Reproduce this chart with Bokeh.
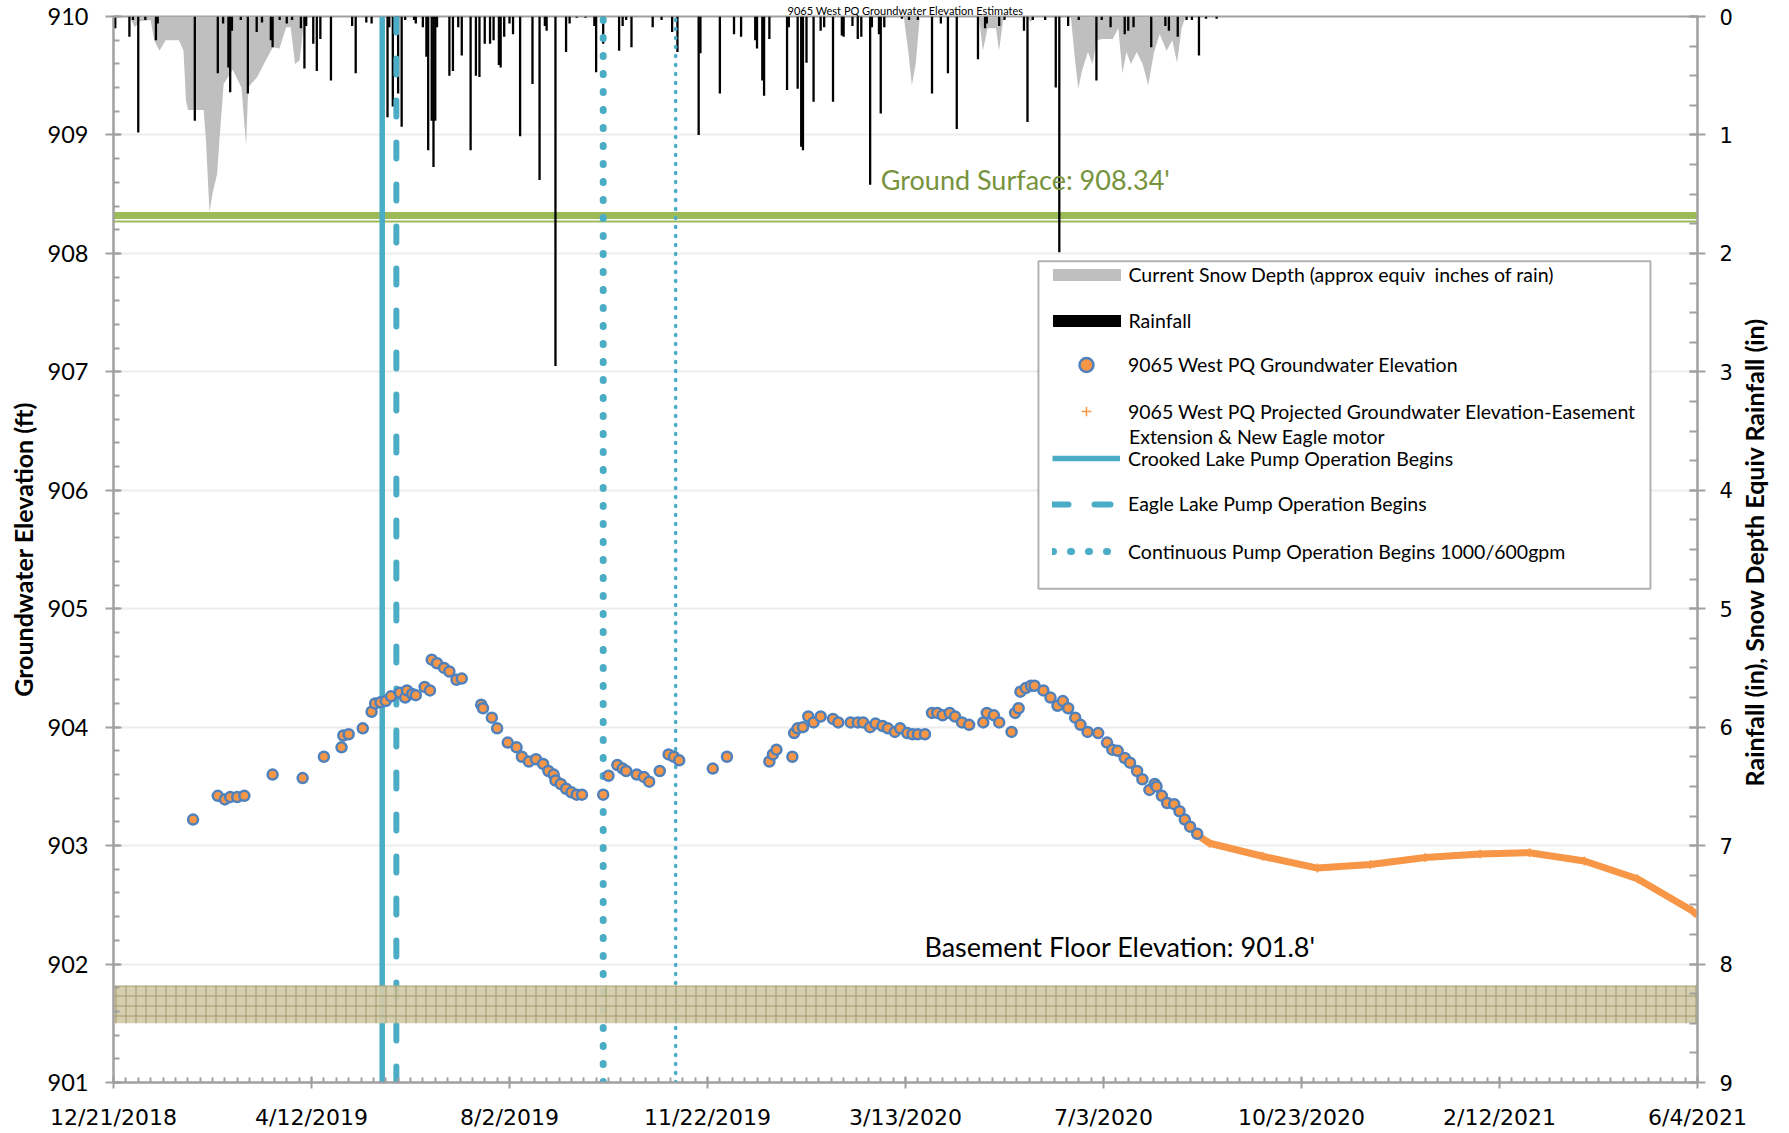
import math
import pandas as pd
from bokeh.plotting import figure
from bokeh.models import (Range1d, LinearAxis, FixedTicker, Legend, LegendItem, Label,
                          BoxAnnotation, ColumnDataSource)
from bokeh.embed import file_html
from bokeh.resources import INLINE

# ---------------- data ----------------
START = pd.Timestamp("2018-12-21")
END = pd.Timestamp("2021-06-04")
x_tick_labels = ["12/21/2018", "4/12/2019", "8/2/2019", "11/22/2019", "3/13/2020",
                 "7/3/2020", "10/23/2020", "2/12/2021", "6/4/2021"]

gw_dates = [
    "2019-02-04", "2019-02-18", "2019-02-22", "2019-02-25", "2019-03-01", "2019-03-05",
    "2019-03-21", "2019-04-07", "2019-04-19", "2019-04-29", "2019-04-30", "2019-05-03",
    "2019-05-11", "2019-05-16", "2019-05-18", "2019-05-21", "2019-05-24", "2019-05-27",
    "2019-06-01", "2019-06-04", "2019-06-05", "2019-06-08", "2019-06-10", "2019-06-15",
    "2019-06-18", "2019-06-19", "2019-06-22", "2019-06-26", "2019-06-29", "2019-07-03",
    "2019-07-06", "2019-07-17", "2019-07-18", "2019-07-23", "2019-07-26", "2019-08-01",
    "2019-08-06", "2019-08-09", "2019-08-13", "2019-08-17", "2019-08-21", "2019-08-24",
    "2019-08-27", "2019-08-28", "2019-08-31", "2019-09-03", "2019-09-06", "2019-09-09",
    "2019-09-12", "2019-09-24", "2019-09-27", "2019-10-02", "2019-10-05", "2019-10-07",
    "2019-10-13", "2019-10-17", "2019-10-20", "2019-10-26", "2019-10-31", "2019-11-03",
    "2019-11-06", "2019-11-25", "2019-12-03", "2019-12-27", "2019-12-29", "2019-12-31",
    "2020-01-09", "2020-01-10", "2020-01-12", "2020-01-15", "2020-01-18", "2020-01-21",
    "2020-01-25", "2020-02-01", "2020-02-04", "2020-02-11", "2020-02-15", "2020-02-18",
    "2020-02-22", "2020-02-25", "2020-02-29", "2020-03-03", "2020-03-07", "2020-03-10",
    "2020-03-14", "2020-03-17", "2020-03-20", "2020-03-24", "2020-03-28", "2020-03-31",
    "2020-04-03", "2020-04-07", "2020-04-10", "2020-04-14", "2020-04-18", "2020-04-26",
    "2020-04-28", "2020-05-02", "2020-05-05", "2020-05-12", "2020-05-14", "2020-05-16",
    "2020-05-17", "2020-05-20", "2020-05-23", "2020-05-25", "2020-05-30", "2020-06-03",
    "2020-06-07", "2020-06-10", "2020-06-13", "2020-06-17", "2020-06-20", "2020-06-24",
    "2020-06-30", "2020-07-05", "2020-07-08", "2020-07-11", "2020-07-15", "2020-07-18",
    "2020-07-22", "2020-07-25", "2020-07-29", "2020-08-01", "2020-08-02", "2020-08-05",
    "2020-08-08", "2020-08-12", "2020-08-15", "2020-08-18", "2020-08-21", "2020-08-25",
]
gw_elev = [
    903.22, 903.42, 903.39, 903.41, 903.41, 903.42,
    903.60, 903.57, 903.75, 903.83, 903.93, 903.94,
    903.99, 904.13, 904.20, 904.21, 904.22, 904.26,
    904.29, 904.25, 904.31, 904.28, 904.27, 904.34,
    904.31, 904.57, 904.54, 904.50, 904.47, 904.40,
    904.41, 904.19, 904.16, 904.08, 903.99, 903.87,
    903.83, 903.75, 903.71, 903.73, 903.69, 903.63,
    903.60, 903.55, 903.52, 903.48, 903.45, 903.43,
    903.43, 903.43, 903.59, 903.68, 903.65, 903.63,
    903.60, 903.58, 903.54, 903.63, 903.77, 903.75,
    903.72, 903.65, 903.75, 903.71, 903.77, 903.81,
    903.75, 903.95, 903.99, 904.00, 904.09, 904.04,
    904.09, 904.07, 904.04, 904.04, 904.04, 904.04,
    904.00, 904.03, 904.01, 903.99, 903.96, 903.99,
    903.95, 903.94, 903.94, 903.94, 904.12, 904.12,
    904.10, 904.12, 904.09, 904.04, 904.02, 904.04,
    904.12, 904.10, 904.04, 903.96, 904.12, 904.16,
    904.30, 904.33, 904.35, 904.35, 904.31, 904.25,
    904.18, 904.22, 904.16, 904.08, 904.02, 903.96,
    903.95, 903.87, 903.81, 903.80, 903.74, 903.70,
    903.63, 903.56, 903.47, 903.52, 903.50, 903.42,
    903.36, 903.35, 903.29, 903.22, 903.16, 903.10,
]

proj_dates = ["2020-08-25", "2020-09-01", "2020-10-01", "2020-11-01", "2020-12-01",
              "2021-01-01", "2021-02-01", "2021-03-01", "2021-04-01", "2021-05-01",
              "2021-06-01", "2021-06-04"]
proj_elev = [903.09, 903.02, 902.91, 902.81, 902.84, 902.90, 902.93, 902.94, 902.87,
             902.72, 902.45, 902.41]

# rainfall / snow: position along the precipitation axis (days after 12/21/2018), inches
rain_day = [1, 9, 11, 14, 18, 24, 25, 46, 59, 62, 65, 66, 67, 72, 76, 81, 84, 89, 90, 94,
            98, 101, 106, 108, 109, 113, 115, 117, 123, 135, 137, 143, 146, 155, 156, 158,
            160, 161, 163, 165, 170, 171, 175, 177, 178, 180, 181, 182, 183, 190, 192, 195,
            197, 202, 205, 207, 210, 213, 215, 218, 219, 221, 224, 226, 230, 237, 241, 244,
            245, 250, 256, 258, 262, 267, 272, 273, 277, 286, 288, 290, 293, 305, 310, 316,
            319, 331, 332, 343, 351, 355, 363, 364, 367, 368, 371, 381, 382, 387, 389, 390,
            392, 396, 400, 402, 407, 412, 413, 418, 421, 423, 428, 429, 433, 434, 436, 446,
            450, 455, 463, 468, 472, 477, 489, 493, 494, 501, 504, 515, 517, 520, 527, 533,
            535, 540, 546, 556, 559, 564, 572, 574, 577, 587, 595, 597, 602, 607, 610, 614,
            618, 624]
rain_in = [0.10, 0.17, 0.03, 0.98, 0.03, 0.20, 0.06, 0.88, 0.48, 0.06, 0.43, 0.64, 0.12,
           0.03, 0.65, 0.13, 0.05, 0.20, 0.26, 0.03, 0.06, 0.03, 0.10, 0.44, 0.08, 0.23,
           0.46, 0.19, 0.54, 0.08, 0.48, 0.05, 0.06, 0.85, 0.09, 0.76, 0.03, 0.65, 0.93,
           0.03, 0.03, 0.06, 0.09, 0.34, 1.13, 0.88, 1.27, 0.88, 0.09, 0.50, 0.46, 0.09,
           0.33, 1.13, 0.50, 0.51, 0.23, 0.23, 0.20, 0.41, 0.43, 0.17, 0.06, 0.15, 1.01,
           0.57, 1.38, 0.08, 0.12, 2.95, 0.30, 0.06, 0.01, 0.01, 0.08, 0.47, 0.23, 0.29,
           0.08, 0.03, 0.26, 0.09, 0.03, 0.13, 0.30, 1.00, 0.31, 0.65, 0.15, 0.17, 0.20,
           0.27, 0.54, 0.67, 0.19, 0.62, 0.09, 0.61, 1.10, 1.13, 0.39, 0.72, 0.12, 0.09,
           0.72, 0.16, 0.17, 0.08, 0.19, 0.17, 1.42, 0.09, 0.15, 0.82, 0.09, 0.02, 0.03,
           0.03, 0.65, 0.06, 0.48, 0.95, 0.36, 0.10, 0.06, 0.08, 0.03, 0.12, 0.89, 0.03,
           0.03, 0.60, 1.99, 0.08, 0.03, 0.54, 0.03, 0.09, 0.15, 0.12, 0.09, 0.26, 0.08,
           0.12, 0.17, 0.03, 0.03, 0.33, 0.02, 0.02]

snow_day = [0, 9, 12, 15, 21, 23, 26, 29.5, 37, 39.6, 41, 42.2, 51, 52.3, 54.3, 56.1, 58.6,
            59.8, 62.3, 67.4, 72.4, 75, 76.2, 81.3, 85.1, 90.1, 93.9, 97.7, 100.2, 102.7,
            105.3, 107.8, 110.3,
            447, 449.6, 451.6, 453.8, 456.1, 489.5, 491.8, 494.4, 499.2, 500.9, 503.5, 517,
            518.8, 520.5,
            541.5, 543.8, 545.7, 548, 551.2, 553.8, 556.1, 559.3, 565.2, 568.4, 570.7, 573,
            575.5, 578.8, 582.1, 585.3, 588.6, 591.8, 595.7, 598.9, 601.6, 604.2, 606.4]
snow_in = [0, 0, 0.09, 0.04, 0.03, 0.20, 0.29, 0.20, 0.20, 0.29, 0.71, 0.79, 0.79, 1.05, 1.65,
           1.49, 1.33, 1.07, 0.57, 0.45, 0.60, 1.09, 0.60, 0.51, 0.40, 0.26, 0.27, 0.09, 0.09,
           0.40, 0.37, 0.03, 0,
           0, 0.30, 0.58, 0.40, 0, 0, 0.29, 0.10, 0.10, 0.29, 0, 0, 0.05, 0,
           0, 0.35, 0.61, 0.45, 0.30, 0.40, 0.20, 0.19, 0.19, 0.10, 0.48, 0.30, 0.40, 0.30,
           0.40, 0.58, 0.30, 0.15, 0.29, 0.20, 0.39, 0.10, 0]

crooked_date = "2019-05-22"
eagle_date = "2019-05-30"
continuous_date = "2019-09-24"
pump_change_date = "2019-11-04"

ground_surface = 908.34
ground_line_thick = 908.32   # drawn position of the compound line
ground_line_thin = 908.27
basement_floor = 901.8
basement_band_top = 901.82
basement_band_bottom = 901.50

Y_MIN, Y_MAX = 901, 910
R_MIN, R_MAX = 0, 9


def to_days(dates):
    return [(pd.Timestamp(d) - START).days for d in dates]


end_day = (END - START).days
x_tick_days = [112 * i for i in range(9)]

# ---------------- figure ----------------
AX = "#a0a0a0"
BLUE = "#4bacc6"
ORANGE = "#f79646"
GREEN = "#9bbb59"

p = figure(width=1788, height=1132, x_range=Range1d(0, end_day), y_range=Range1d(Y_MIN, Y_MAX),
           output_backend="svg", toolbar_location=None,
           min_border_left=113, min_border_right=91, min_border_top=16, min_border_bottom=49)
p.background_fill_color = "white"
p.border_fill_color = "white"
p.outline_line_color = AX
p.outline_line_width = 2
p.xgrid.visible = False
p.ygrid.ticker = FixedTicker(ticks=list(range(Y_MIN, Y_MAX + 1)))
p.ygrid.grid_line_color = "#ededed"
p.ygrid.grid_line_width = 2

p.title.text = "9065 West PQ Groundwater Elevation Estimates"
p.title.align = "center"
p.title.text_font = "Lato"
p.title.text_font_style = "normal"
p.title.text_font_size = "11px"
p.title.text_color = "#000000"
p.title.standoff = 0
p.title.offset = -11

p.extra_y_ranges = {"rain": Range1d(start=R_MAX, end=R_MIN)}


def style_axis(ax, font, size):
    ax.axis_line_color = AX
    ax.axis_line_width = 2
    ax.major_tick_line_color = AX
    ax.major_tick_line_width = 2
    ax.minor_tick_line_color = AX
    ax.minor_tick_line_width = 2
    ax.major_label_text_font = font
    ax.major_label_text_font_size = size
    ax.major_label_text_color = "#000000"
    ax.axis_label_text_font = "Lato"
    ax.axis_label_text_font_style = "bold"
    ax.axis_label_text_font_size = "25px"
    ax.axis_label_text_color = "#000000"


ly = p.yaxis[0]
ly.ticker = FixedTicker(ticks=list(range(Y_MIN, Y_MAX + 1)),
                        minor_ticks=[round(Y_MIN + 0.2 * i, 2) for i in range(46)])
style_axis(ly, "Lato", "23.5px")
ly.axis_label = "Groundwater Elevation (ft)"
ly.major_tick_in, ly.major_tick_out = 8, 8
ly.minor_tick_in, ly.minor_tick_out = 6, 0
ly.major_label_standoff = 17
ly.axis_label_standoff = 7

bx = p.xaxis[0]
bx.ticker = FixedTicker(ticks=x_tick_days, minor_ticks=list(range(0, end_day + 1, 7)))
bx.major_label_overrides = {t: lab for t, lab in zip(x_tick_days, x_tick_labels)}
style_axis(bx, "DejaVu Sans", "22px")
bx.major_tick_in, bx.major_tick_out = 6, 6
bx.minor_tick_in, bx.minor_tick_out = 5, 0
bx.major_label_standoff = 16

ry = LinearAxis(y_range_name="rain",
                ticker=FixedTicker(ticks=list(range(R_MIN, R_MAX + 1)),
                                   minor_ticks=[0.25 * i for i in range(37)]))
style_axis(ry, "DejaVu Sans", "21px")
ry.major_tick_in, ry.major_tick_out = 8, 8
ry.minor_tick_in, ry.minor_tick_out = 8, 0
ry.major_label_standoff = 14
p.add_layout(ry, "right")

# title of the precipitation axis, reading bottom-to-top like the reference:
# a tick-less companion axis whose single label starts at the title's lower end
RIGHT_TITLE = "Rainfall (in), Snow Depth Equiv Rainfall (in)"
title_start_in = 6.5
rt = LinearAxis(y_range_name="rain", ticker=FixedTicker(ticks=[title_start_in]))
rt.axis_line_alpha = 0
rt.major_tick_in = rt.major_tick_out = 0
rt.minor_tick_in = rt.minor_tick_out = 0
rt.major_tick_line_alpha = 0
rt.minor_tick_line_alpha = 0
rt.major_label_overrides = {title_start_in: RIGHT_TITLE}
rt.major_label_orientation = math.pi / 2
rt.major_label_text_font = "Lato"
rt.major_label_text_font_style = "bold"
rt.major_label_text_font_size = "25px"
rt.major_label_text_color = "#000000"
rt.major_label_standoff = 19
p.add_layout(rt, "right")

# ---------------- glyphs ----------------
snow = p.varea(x=snow_day, y1=[0] * len(snow_day), y2=snow_in, y_range_name="rain",
               fill_color="#bfbfbf")

p.line(x=[0, end_day], y=[ground_line_thick] * 2, line_color=GREEN, line_width=7)
p.line(x=[0, end_day], y=[ground_line_thin] * 2, line_color=GREEN, line_width=2)

rain = p.vbar(x=rain_day, width=1.3, top=[0] * len(rain_day), bottom=rain_in,
              y_range_name="rain", fill_color="black", line_color=None)

yl = [Y_MIN, Y_MAX]
cd = to_days([crooked_date])[0]
ed = to_days([eagle_date])[0]
cod = to_days([continuous_date])[0]
pcd = to_days([pump_change_date])[0]
crooked = p.line(x=[cd, cd], y=yl, line_color=BLUE, line_width=5.5)
eagle = p.line(x=[ed, ed], y=yl, line_color=BLUE, line_width=6, line_dash="16 26",
               line_cap="round")
cont = p.line(x=[cod, cod], y=yl, line_color=BLUE, line_width=7, line_dash="1 17",
              line_cap="round")
p.line(x=[pcd, pcd], y=yl, line_color=BLUE, line_width=3.5, line_dash="1 8", line_cap="round")

p.quad(left=[0], right=[end_day], bottom=[basement_band_bottom], top=[basement_band_top],
       fill_color="#d3cba8", fill_alpha=0.92, line_color=None,
       hatch_pattern="+", hatch_color="#9f976a", hatch_scale=10, hatch_weight=1)

psrc = ColumnDataSource(dict(day=to_days(proj_dates), elev=proj_elev))
proj = p.scatter(x="day", y="elev", source=psrc, marker="cross", size=9,
                 line_color=ORANGE, line_width=1.5)
p.line(x="day", y="elev", source=psrc, line_color=ORANGE, line_width=7)

gsrc = ColumnDataSource(dict(day=to_days(gw_dates), elev=gw_elev))
gw = p.scatter(x="day", y="elev", source=gsrc, marker="circle", size=10,
               fill_color=ORANGE, line_color="#4f81bd", line_width=2.5)

# ---------------- texts ----------------
p.add_layout(Label(x=434, y=908.62, text="Ground Surface: %.2f'" % ground_surface,
                   text_font="Lato", text_font_size="27px", text_color="#77933c",
                   text_baseline="middle"))
p.add_layout(Label(x=458.7, y=902.15, text="Basement Floor Elevation: %.1f'" % basement_floor,
                   text_font="Lato", text_font_size="27px", text_color="#000000",
                   text_baseline="middle"))

# ---------------- legend ----------------
p.add_layout(BoxAnnotation(left=523.2, right=869.4, top=907.934, bottom=905.169,
                           fill_color="white", fill_alpha=1.0, line_color="black",
                           line_width=2))


def add_legend(label, renderer, loc, gw_, gh, standoff):
    lg = Legend(items=[LegendItem(label=label, renderers=[renderer])], location=loc,
                glyph_width=gw_, glyph_height=gh, label_height=24, label_standoff=standoff,
                padding=0, margin=0, spacing=0, border_line_alpha=0,
                background_fill_alpha=0, label_text_font="Lato",
                label_text_font_size="19.5px", label_text_color="#000000")
    p.add_layout(lg)


add_legend("Current Snow Depth (approx equiv  inches of rain)", snow, (930.5, 796), 85, 15, 0)
add_legend("Rainfall", rain, (930.5, 750), 85, 15, 0)
add_legend("9065 West PQ Groundwater Elevation", gw, (939, 700.5), 68, 35, 8)
add_legend("9065 West PQ Projected Groundwater Elevation-Easement", proj, (939, 659), 68, 24, 8)
add_legend("Crooked Lake Pump Operation Begins", crooked, (939, 612), 68, 24, 8)
add_legend("Eagle Lake Pump Operation Begins", eagle, (939, 566.5), 68, 24, 8)
add_legend("Continuous Pump Operation Begins 1000/600gpm", cont, (939, 519), 68, 24, 8)
p.add_layout(Label(x=574.4, y=906.45, text="Extension & New Eagle motor",
                   text_font="Lato", text_font_size="19.5px", text_color="#000000",
                   text_baseline="middle"))

open("out.html", "w").write(file_html(p, INLINE))
